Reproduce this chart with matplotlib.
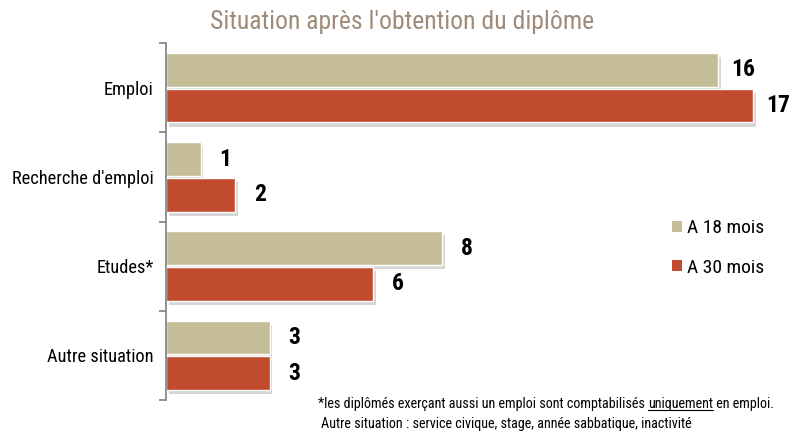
import numpy as np
import matplotlib.pyplot as plt
import matplotlib.patheffects as pe
from matplotlib.patches import Patch

plt.rcParams['font.family'] = ['Roboto Condensed', 'Barlow Condensed', 'DejaVu Sans']

categories = ['Emploi', "Recherche d'emploi", 'Etudes*', 'Autre situation']
mois_18 = [16, 1, 8, 3]
mois_30 = [17, 2, 6, 3]
series_names = ['A 18 mois', 'A 30 mois']

col_18 = '#C5BD98'
col_30 = '#C04B2F'

fig = plt.figure(figsize=(7.91, 4.32), dpi=100)
ax = fig.add_axes([166/791, 1 - 400/432, 1 - 166/791, (400 - 43)/432])

y = np.arange(len(categories))
h = 0.38
shadow = [pe.SimplePatchShadow(offset=(2, -3), shadow_rgbFace='#999999', alpha=0.4), pe.Normal()]

b1 = ax.barh(y - 0.2, mois_18, height=h, color=col_18, edgecolor='white', linewidth=1,
             path_effects=shadow)
b2 = ax.barh(y + 0.2, mois_30, height=h, color=col_30, edgecolor='white', linewidth=1,
             path_effects=shadow)

for bars, vals in [(b1, mois_18), (b2, mois_30)]:
    for bar, v in zip(bars, vals):
        ax.text(v + 0.72, bar.get_y() + bar.get_height() / 2, str(v), va='center', ha='center',
                fontsize=17, fontweight='bold', color='black')

ax.set_xlim(0, 18.1)
ax.set_ylim(3.5, -0.5)
ax.set_xticks([])
ax.set_yticks(y)
ax.set_yticklabels(categories, fontsize=13.2)
ax.set_yticks(np.arange(-0.5, 4, 1), minor=True)
ax.tick_params(axis='y', which='major', length=0, pad=9)
ax.tick_params(axis='y', which='minor', length=5, color='#888888', width=1.3)
for s in ['top', 'right', 'bottom']:
    ax.spines[s].set_visible(False)
ax.spines['left'].set_color('#888888')
ax.spines['left'].set_linewidth(1.3)

handles = [Patch(facecolor=col_18, edgecolor='none'), Patch(facecolor=col_30, edgecolor='none')]
leg = ax.legend(handles, series_names, loc='upper left', bbox_to_anchor=(0.81, 0.507), frameon=False,
                fontsize=14, handlelength=0.5, handleheight=0.5, handletextpad=0.25,
                labelspacing=1.12, borderpad=0, borderaxespad=0)

fig.text(0.508, 0.95, "Situation après l'obtention du diplôme", ha='center', va='center',
         fontsize=18.5, color='#9E8B7A')

# footnote with underlined word
r = fig.canvas.get_renderer()
x0, yf = 318/791, 1 - 404/432
parts = ['*les diplômés exerçant aussi un emploi sont comptabilisés ', 'uniquement', ' en emploi.']
x = x0
for i, p in enumerate(parts):
    t = fig.text(x, yf, p, fontsize=10.2, va='center', ha='left')
    bb = t.get_window_extent(renderer=r)
    if i == 1:
        fig.add_artist(plt.Line2D([bb.x0/791, bb.x1/791], [(bb.y0 + 1)/432]*2, color='black', lw=0.8))
    x = bb.x1 / 791
fig.text(321/791, 1 - 424/432, 'Autre situation : service civique, stage, année sabbatique, inactivité',
         fontsize=10.2, va='center', ha='left')

fig.savefig('out.png', dpi=100)
